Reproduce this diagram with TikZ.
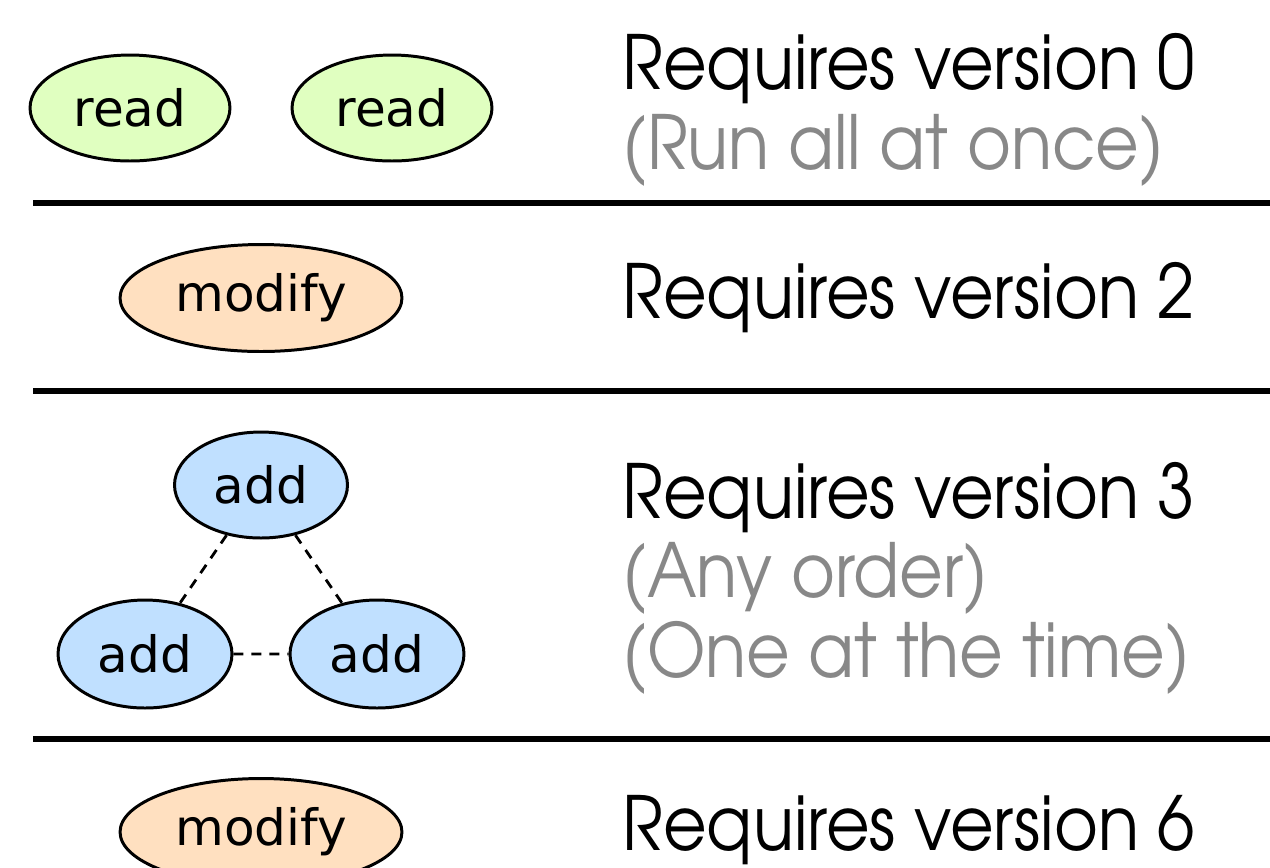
\documentclass[tikz,border=0pt]{standalone}
\usepackage{fontspec}
\setmainfont{DejaVu Sans}
\newfontfamily\gothic[FakeStretch=0.9]{TeX Gyre Adventor}
\usetikzlibrary{shapes.geometric}

\definecolor{readfill}{HTML}{E0FFC0}
\definecolor{modfill}{HTML}{FFE0C0}
\definecolor{addfill}{HTML}{C0E0FF}
\definecolor{notegray}{HTML}{888888}

\tikzset{
  op/.style={ellipse, draw, line width=1.7pt, inner sep=0pt,
    font=\fontsize{28.5}{30}\selectfont},
  rule/.style={line width=0.12cm},
  req/.style={anchor=base west, inner sep=0pt, font=\gothic\fontsize{42.5}{44}\selectfont},
  note/.style={req, text=notegray},
  link/.style={line width=1.6pt, dash pattern=on 0.2cm off 0.16cm}
}

\begin{document}
\begin{tikzpicture}[x=0.02cm, y=-0.02cm]
\useasboundingbox (0,0) rectangle (1270,867);

% version 0
\node[op, fill=readfill, minimum width=4cm, minimum height=2.12cm] (r1) at (130,108) {read};
\node[op, fill=readfill, minimum width=4cm, minimum height=2.12cm] (r2) at (392,108) {read};
\node[req] (t0) at (622,89) {Requires version 0};
\node[note] (n0) at (622,169) {(Run all at once)};
\draw[rule] (33,203) -- (1270,203);

% version 2
\node[op, fill=modfill, minimum width=5.64cm, minimum height=2.14cm] (m1) at (261,298) {modify};
\node[req] (t2) at (622,318) {Requires version 2};
\draw[rule] (33,391) -- (1270,391);

% version 3
\node[op, fill=addfill, minimum width=3.46cm, minimum height=2.12cm] (a1) at (261,485) {add};
\node[op, fill=addfill, minimum width=3.48cm, minimum height=2.16cm] (a2) at (145,654) {add};
\node[op, fill=addfill, minimum width=3.48cm, minimum height=2.16cm] (a3) at (377,654) {add};
\draw[link] (a1) -- (a2) (a1) -- (a3) (a2) -- (a3);
\node[req] (t3) at (622,518) {Requires version 3};
\node[note] (n3) at (622,597) {(Any order)};
\node[note] (n3b) at (622,677) {(One at the time)};
\draw[rule] (33,739) -- (1270,739);

% version 6
\node[op, fill=modfill, minimum width=5.64cm, minimum height=2.14cm] (m2) at (261,832) {modify};
\node[req] (t6) at (622,850) {Requires version 6};
\end{tikzpicture}
\end{document}
